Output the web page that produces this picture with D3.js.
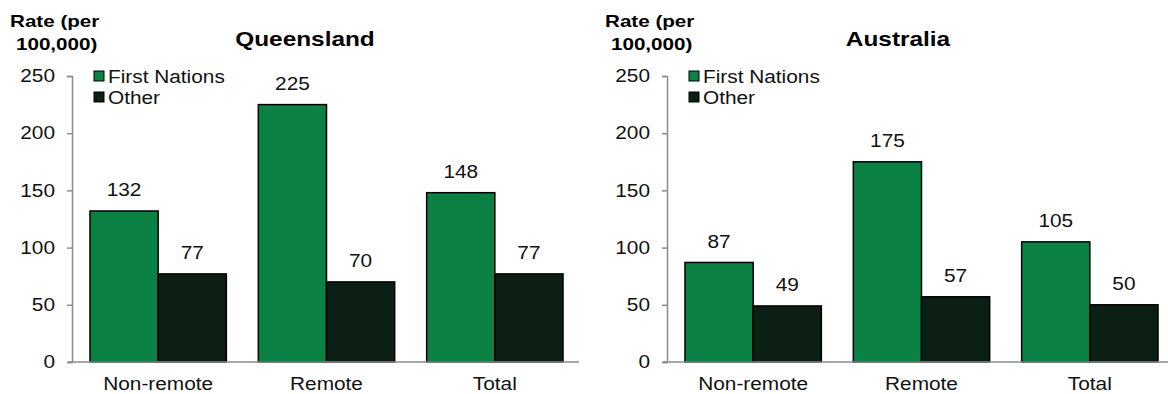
<!DOCTYPE html>
<html>
<head>
<meta charset="utf-8">
<script src="https://cdn.jsdelivr.net/npm/d3@7"></script>
<style>
  body { margin: 0; background: #fff; }
  svg { display: block; font-family: Arial, "Liberation Sans", sans-serif; }
</style>
</head>
<body>
<svg id="chart" width="1168" height="394"></svg>
<script>
// Rates per 100,000 by remoteness
const categories = ["Non-remote", "Remote", "Total"];
const seriesNames = ["First Nations", "Other"];
const queenslandFirstNations = [132, 225, 148];
const queenslandOther = [77, 70, 77];
const australiaFirstNations = [87, 175, 105];
const australiaOther = [49, 57, 50];
const yTicks = [0, 50, 100, 150, 200, 250];

const colors = { "First Nations": "#0b8144", "Other": "#0c1f15" };
const FONT = "Arial, 'Liberation Sans', sans-serif";
const SX = 1.19; // horizontal stretch of the lettering

const panels = [
  { title: "Queensland", values: [queenslandFirstNations, queenslandOther], axisX: 72, titleX: 305, yTitleX: 10 },
  { title: "Australia", values: [australiaFirstNations, australiaOther], axisX: 667, titleX: 898, yTitleX: 605 }
];

const svg = d3.select("#chart");
const yTop = 76, yBottom = 362;

// text placed at (x, y) and widened horizontally
function label(g, x, y, str, opts) {
  const t = g.append("text")
    .attr("transform", `translate(${x},${y}) scale(${opts.sx || SX},1)`)
    .attr("text-anchor", opts.anchor || "start")
    .attr("font-size", opts.size)
    .attr("font-weight", opts.bold ? "bold" : "normal")
    .attr("fill", opts.fill || "#111")
    .text(str);
  return t;
}

panels.forEach(p => {
  const g = svg.append("g");
  const x = d3.scaleBand().domain(categories).range([p.axisX + 2, p.axisX + 507]).paddingInner(0.19).paddingOuter(0.095);
  const xs = d3.scaleBand().domain(seriesNames).range([0, x.bandwidth()]);
  const y = d3.scaleLinear().domain([0, 250]).range([yBottom, yTop]);

  // bars and value labels
  seriesNames.forEach((s, si) => {
    g.selectAll(null).data(categories).enter().append("rect")
      .attr("x", c => x(c) + xs(s))
      .attr("y", (c, i) => y(p.values[si][i]))
      .attr("width", xs.bandwidth())
      .attr("height", (c, i) => y(0) - y(p.values[si][i]))
      .attr("fill", colors[s])
      .attr("stroke", "#000")
      .attr("stroke-width", 1.5);
    categories.forEach((c, i) => {
      const v = p.values[si][i];
      label(g, x(c) + xs(s) + xs.bandwidth() / 2, y(v) - 14.5, v, { size: 17.5, anchor: "middle" });
    });
  });

  // y axis
  const pad = 12;
  const yAxis = d3.axisLeft(y).tickValues(yTicks).tickSize(5).tickPadding(pad);
  const ya = g.append("g").attr("transform", `translate(${p.axisX},0)`).call(yAxis);
  ya.select(".domain").attr("stroke", "#8c8c8c").attr("stroke-width", 1.5);
  ya.selectAll(".tick line").attr("stroke", "#8c8c8c").attr("stroke-width", 1.5);
  ya.selectAll(".tick text")
    .attr("font-size", 17.5).attr("fill", "#111").attr("font-family", FONT)
    .attr("x", null)
    .attr("transform", `translate(${-(5 + pad)},0) scale(${SX},1)`);

  // x axis
  const xAxis = d3.axisBottom(x).tickSize(0).tickPadding(16);
  const xa = g.append("g").attr("transform", `translate(0,${yBottom})`).call(xAxis);
  xa.select(".domain").attr("stroke", "#8c8c8c").attr("stroke-width", 1.5)
    .attr("d", `M${p.axisX - 4},0H${p.axisX + 507}`);
  xa.selectAll(".tick text")
    .attr("font-size", 17.5).attr("fill", "#111").attr("font-family", FONT)
    .attr("transform", `scale(${SX},1)`);

  // titles
  label(g, p.titleX, 45.5, p.title, { size: 20.5, bold: true, anchor: "middle", fill: "#000" });
  label(g, p.yTitleX, 27, "Rate (per", { size: 16.5, bold: true, fill: "#000", sx: 1.25 });
  label(g, p.yTitleX + 6, 50, "100,000)", { size: 16.5, bold: true, fill: "#000", sx: 1.25 });

  // legend
  const lx = p.axisX + 22;
  seriesNames.forEach((s, i) => {
    g.append("rect").attr("x", lx).attr("y", 71 + i * 21).attr("width", 10).attr("height", 10)
      .attr("fill", colors[s]).attr("stroke", "#000").attr("stroke-width", 1);
    label(g, lx + 14, 83 + i * 20.5, s, { size: 17.5 });
  });
});
</script>
</body>
</html>
